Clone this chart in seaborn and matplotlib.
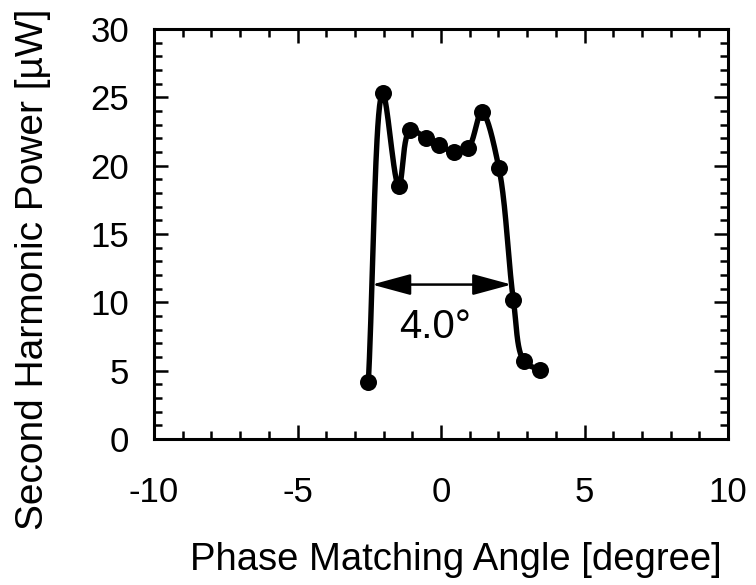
import numpy as np
import pandas as pd
import seaborn as sns
import matplotlib
matplotlib.use("Agg")
import matplotlib.pyplot as plt
from matplotlib.ticker import MultipleLocator

# Measured second-harmonic power versus phase-matching angle
angle_deg = [-2.53, -2.03, -1.47, -1.08, -0.52, -0.06, 0.46, 0.95, 1.42, 2.02, 2.52, 2.89, 3.45]
power_uw = [4.2, 25.3, 18.5, 22.6, 22.0, 21.5, 21.0, 21.3, 23.9, 19.8, 10.2, 5.7, 5.05]

# Acceptance-width annotation
width_text = "4.0°"
width_level = 11.3
width_text_pos = (-0.2, 8.2)

x_ticks = [-10, -5, 0, 5, 10]
y_ticks = [0, 5, 10, 15, 20, 25, 30]

df = pd.DataFrame({"angle": angle_deg, "power": power_uw})


def catmull_rom(px, py, n=40, alpha=0.5):
    """Centripetal Catmull-Rom curve through the points (in the given units)."""
    P = np.column_stack([px, py]).astype(float)
    P = np.vstack([2 * P[0] - P[1], P, 2 * P[-1] - P[-2]])
    out = []
    for i in range(1, len(P) - 2):
        p0, p1, p2, p3 = P[i - 1], P[i], P[i + 1], P[i + 2]
        t0 = 0.0
        t1 = t0 + np.linalg.norm(p1 - p0) ** alpha
        t2 = t1 + np.linalg.norm(p2 - p1) ** alpha
        t3 = t2 + np.linalg.norm(p3 - p2) ** alpha
        t = np.linspace(t1, t2, n)[:, None]
        a1 = (t1 - t) / (t1 - t0) * p0 + (t - t0) / (t1 - t0) * p1
        a2 = (t2 - t) / (t2 - t1) * p1 + (t - t1) / (t2 - t1) * p2
        a3 = (t3 - t) / (t3 - t2) * p2 + (t - t2) / (t3 - t2) * p3
        b1 = (t2 - t) / (t2 - t0) * a1 + (t - t0) / (t2 - t0) * a2
        b2 = (t3 - t) / (t3 - t1) * a2 + (t - t1) / (t3 - t1) * a3
        c = (t2 - t) / (t2 - t1) * b1 + (t - t1) / (t2 - t1) * b2
        out.append(c if i == 1 else c[1:])
    return np.vstack(out)


sns.set_theme(style="ticks")
plt.rcParams["font.family"] = ["Liberation Sans", "DejaVu Sans"]
plt.rcParams["axes.unicode_minus"] = False
plt.rcParams.update({"text.color": "black", "axes.labelcolor": "black",
                     "xtick.color": "black", "ytick.color": "black",
                     "xtick.labelcolor": "black", "ytick.labelcolor": "black"})

fig = plt.figure(figsize=(7.56, 5.85), dpi=100)
fig.patch.set_facecolor("white")
ax = fig.add_axes([154 / 756, 1 - 439 / 585, 574 / 756, 410 / 585])
ax.set_facecolor("white")

ax.set_xlim(-10, 10)
ax.set_ylim(0, 30)

# Smooth curve, built in screen-proportional units so it bends evenly
sx, sy = 28.7, 13.67
curve = catmull_rom(np.array(angle_deg) * sx, np.array(power_uw) * sy)
curve_df = pd.DataFrame({"angle": curve[:, 0] / sx, "power": curve[:, 1] / sy})

sns.lineplot(data=curve_df, x="angle", y="power", sort=False, estimator=None,
             color="black", linewidth=3.9, ax=ax, zorder=3)
sns.scatterplot(data=df, x="angle", y="power", color="black", s=150,
                edgecolor="black", linewidth=0, ax=ax, zorder=4)

# Horizontal width arrow between the two flanks of the curve
yy = curve_df["power"].to_numpy() - width_level
xx = curve_df["angle"].to_numpy()
idx = np.where(np.sign(yy[:-1]) != np.sign(yy[1:]))[0]
crossings = [xx[i] - yy[i] * (xx[i + 1] - xx[i]) / (yy[i + 1] - yy[i]) for i in idx]
x_left, x_right = crossings[0], crossings[-1]
ax.annotate("", xy=(x_right, width_level), xytext=(x_left, width_level),
            arrowprops=dict(arrowstyle="<|-|>,head_length=2.4,head_width=0.65",
                            mutation_scale=10, color="black", lw=1.8,
                            shrinkA=0, shrinkB=0), zorder=5)
ax.text(*width_text_pos, width_text, ha="center", va="center",
        fontsize=29, color="black")

# Axes, ticks, labels
ax.set_xticks(x_ticks)
ax.set_yticks(y_ticks)
ax.xaxis.set_minor_locator(MultipleLocator(1))
ax.yaxis.set_minor_locator(MultipleLocator(1))
ax.tick_params(which="both", direction="in", top=True, right=True,
               color="black", width=1.8)
ax.tick_params(which="major", length=10)
ax.tick_params(which="minor", length=6)
ax.tick_params(axis="x", which="major", labelsize=25, pad=27)
ax.tick_params(axis="y", which="major", labelsize=25, pad=18)
for sp in ax.spines.values():
    sp.set_visible(True)
    sp.set_linewidth(2.2)
    sp.set_color("black")

ax.set_xlabel("Phase Matching Angle [degree]", fontsize=27.5, color="black")
ax.set_ylabel("Second Harmonic Power [µW]", fontsize=28, color="black")
ax.xaxis.set_label_coords(0.526, -0.25)
ax.yaxis.set_label_coords(-0.18, 0.415)

fig.savefig("out.png", dpi=100, facecolor="white")
